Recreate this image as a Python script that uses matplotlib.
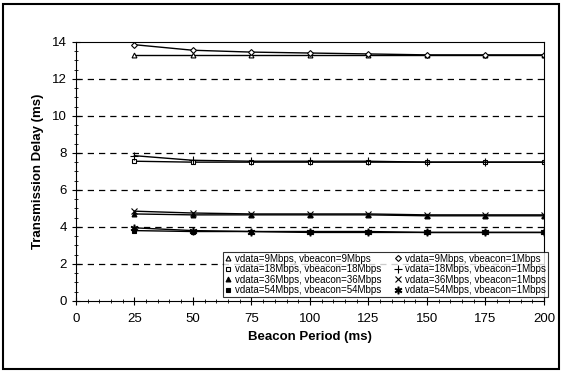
import matplotlib
matplotlib.use('Agg')
import matplotlib.pyplot as plt
from matplotlib.ticker import MultipleLocator
from matplotlib.patches import Rectangle

plt.rcParams['font.family'] = ['Liberation Sans', 'DejaVu Sans']

beacon = [25, 50, 75, 100, 125, 150, 175, 200]

d_9_9 = [13.3, 13.3, 13.3, 13.3, 13.3, 13.3, 13.3, 13.3]
d_18_18 = [7.55, 7.5, 7.5, 7.5, 7.5, 7.5, 7.5, 7.5]
d_36_36 = [4.7, 4.65, 4.65, 4.65, 4.65, 4.6, 4.6, 4.6]
d_54_54 = [3.8, 3.75, 3.75, 3.7, 3.7, 3.7, 3.7, 3.7]
d_9_1 = [13.85, 13.55, 13.45, 13.4, 13.35, 13.3, 13.3, 13.3]
d_18_1 = [7.85, 7.6, 7.55, 7.55, 7.55, 7.5, 7.5, 7.5]
d_36_1 = [4.85, 4.75, 4.7, 4.7, 4.7, 4.65, 4.65, 4.65]
d_54_1 = [3.95, 3.8, 3.75, 3.75, 3.75, 3.7, 3.7, 3.7]

labels = ['vdata=9Mbps, vbeacon=9Mbps', 'vdata=18Mbps, vbeacon=18Mbps',
          'vdata=36Mbps, vbeacon=36Mbps', 'vdata=54Mbps, vbeacon=54Mbps',
          'vdata=9Mbps, vbeacon=1Mbps', 'vdata=18Mbps, vbeacon=1Mbps',
          'vdata=36Mbps, vbeacon=1Mbps', 'vdata=54Mbps, vbeacon=1Mbps']
series = [d_9_9, d_18_18, d_36_36, d_54_54, d_9_1, d_18_1, d_36_1, d_54_1]
markers = ['^', 's', '^', 's', 'D', '+', 'x', '$\u2217$']
fills = ['white', 'white', 'black', 'black', 'white', 'black', 'black', 'black']
sizes = [3.5, 3.5, 3.5, 3.5, 3, 6, 5, 5]

fig = plt.figure(figsize=(5.62, 3.71), dpi=100)
fig.patches.append(Rectangle((0.005, 0.005), 0.99, 0.985, transform=fig.transFigure,
                             fill=False, edgecolor='black', linewidth=1.5))
ax = fig.add_axes([0.135, 0.189, 0.833, 0.698])

for yv in [2, 4, 6, 8, 10, 12]:
    ax.axhline(yv, color='black', linestyle=(0, (5, 4)), linewidth=0.9, zorder=0)

for ys, lab, m, fc, ms in zip(series, labels, markers, fills, sizes):
    ax.plot(beacon, ys, color='black', linewidth=1.0, marker=m, markersize=ms,
            markerfacecolor=fc, markeredgecolor='black', markeredgewidth=0.8, label=lab)

ax.set_xlim(0, 200)
ax.set_ylim(0, 14)
ax.xaxis.set_major_locator(MultipleLocator(25))
ax.xaxis.set_minor_locator(MultipleLocator(5))
ax.yaxis.set_major_locator(MultipleLocator(2))
ax.yaxis.set_minor_locator(MultipleLocator(0.5))
ax.tick_params(which='major', direction='inout', length=6, width=0.8, labelsize=9.5)
ax.tick_params(which='minor', direction='inout', length=3, width=0.6)
ax.tick_params(axis='x', pad=6)
ax.set_xlabel('Beacon Period (ms)', fontsize=9.5, fontweight='bold', labelpad=4)
ax.set_ylabel('Transmission Delay (ms)', fontsize=9.5, fontweight='bold', labelpad=6)

leg = ax.legend(ncol=2, loc='lower right', bbox_to_anchor=(1.008, 0.015),
                fontsize=7.0, frameon=True, fancybox=False,
                edgecolor='black', borderpad=0.2, handlelength=0.6, handletextpad=0.4,
                columnspacing=1.4, labelspacing=0.05, borderaxespad=0.0)
leg.get_frame().set_linewidth(0.8)
for h in leg.legend_handles:
    h.set_linestyle('None')

fig.savefig('out.png', dpi=100)
